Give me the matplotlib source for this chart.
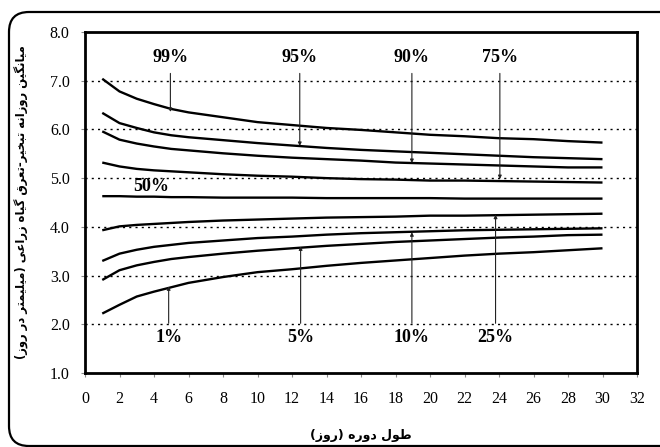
import matplotlib
matplotlib.use("Agg")
import matplotlib.pyplot as plt
from matplotlib.patches import FancyBboxPatch

# ---------------- data ----------------
days = [1, 2, 3, 4, 5, 6, 8, 10, 12, 14, 16, 18, 20, 22, 24, 26, 28, 30]
p99 = [7.04, 6.78, 6.63, 6.52, 6.42, 6.35, 6.25, 6.15, 6.09, 6.03, 5.99, 5.94, 5.89, 5.86, 5.82, 5.80, 5.76, 5.73]
p95 = [6.34, 6.13, 6.03, 5.94, 5.88, 5.84, 5.78, 5.72, 5.67, 5.62, 5.58, 5.55, 5.52, 5.49, 5.46, 5.43, 5.41, 5.39]
p90 = [5.96, 5.79, 5.71, 5.65, 5.60, 5.57, 5.51, 5.46, 5.42, 5.39, 5.36, 5.32, 5.30, 5.28, 5.26, 5.24, 5.22, 5.22]
p75 = [5.32, 5.24, 5.19, 5.16, 5.14, 5.12, 5.08, 5.05, 5.03, 5.00, 4.98, 4.97, 4.95, 4.95, 4.94, 4.93, 4.92, 4.91]
p50 = [4.63, 4.63, 4.62, 4.62, 4.61, 4.61, 4.60, 4.60, 4.60, 4.59, 4.59, 4.59, 4.59, 4.58, 4.58, 4.58, 4.58, 4.58]
p25 = [3.93, 4.01, 4.04, 4.06, 4.08, 4.10, 4.13, 4.15, 4.17, 4.19, 4.20, 4.21, 4.23, 4.23, 4.24, 4.25, 4.26, 4.27]
p10 = [3.30, 3.45, 3.53, 3.59, 3.63, 3.67, 3.72, 3.77, 3.80, 3.84, 3.87, 3.89, 3.91, 3.93, 3.94, 3.95, 3.96, 3.97]
p05 = [2.91, 3.11, 3.21, 3.28, 3.34, 3.38, 3.45, 3.51, 3.56, 3.61, 3.65, 3.69, 3.72, 3.75, 3.78, 3.80, 3.83, 3.84]
p01 = [2.22, 2.40, 2.57, 2.67, 2.76, 2.85, 2.97, 3.07, 3.13, 3.20, 3.26, 3.31, 3.36, 3.41, 3.45, 3.48, 3.52, 3.56]
series = [p99, p95, p90, p75, p50, p25, p10, p05, p01]

# annotations: label, label x, arrow tip y (on curve)
upper_labels = ["99%", "95%", "90%", "75%"]
upper_x = [4.95, 12.45, 18.95, 24.05]
upper_tip = [6.36, 5.66, 5.31, 4.98]
lower_labels = ["1%", "5%", "10%", "25%"]
lower_x = [4.85, 12.5, 18.95, 23.8]
lower_tip = [2.78, 3.60, 3.89, 4.25]

xticks = list(range(0, 33, 2))
yticks = [1, 2, 3, 4, 5, 6, 7, 8]
grid_y = [2, 3, 4, 5, 6, 7]

xlabel_fa = "طول دوره (روز)"
ylabel_fa = "میانگین روزانه تبخیر-تعرق گیاه زراعی (میلیمتر در روز)"

# ---------------- simple Persian shaping ----------------
FORMS = {  # isolated, final, initial, medial
    'ا': ('\uFE8D', '\uFE8E', None, None),
    'ب': ('\uFE8F', '\uFE90', '\uFE91', '\uFE92'),
    'ت': ('\uFE95', '\uFE96', '\uFE97', '\uFE98'),
    'خ': ('\uFEA5', '\uFEA6', '\uFEA7', '\uFEA8'),
    'د': ('\uFEA9', '\uFEAA', None, None),
    'ر': ('\uFEAD', '\uFEAE', None, None),
    'ز': ('\uFEAF', '\uFEB0', None, None),
    'ط': ('\uFEC1', '\uFEC2', '\uFEC3', '\uFEC4'),
    'ع': ('\uFEC9', '\uFECA', '\uFECB', '\uFECC'),
    'ق': ('\uFED5', '\uFED6', '\uFED7', '\uFED8'),
    'ل': ('\uFEDD', '\uFEDE', '\uFEDF', '\uFEE0'),
    'م': ('\uFEE1', '\uFEE2', '\uFEE3', '\uFEE4'),
    'ن': ('\uFEE5', '\uFEE6', '\uFEE7', '\uFEE8'),
    'ه': ('\uFEE9', '\uFEEA', '\uFEEB', '\uFEEC'),
    'و': ('\uFEED', '\uFEEE', None, None),
    'ی': ('\uFBFC', '\uFBFD', '\uFBFE', '\uFBFF'),
    'گ': ('\uFB92', '\uFB93', '\uFB94', '\uFB95'),
}


def shape(s):
    out = []
    n = len(s)
    for i, c in enumerate(s):
        if c not in FORMS:
            out.append(c)
            continue
        prev = s[i - 1] if i > 0 else None
        nxt = s[i + 1] if i + 1 < n else None
        join_prev = prev in FORMS and FORMS[prev][2] is not None
        join_next = nxt in FORMS and FORMS[c][2] is not None
        iso, fin, ini, med = FORMS[c]
        if join_prev and join_next:
            out.append(med)
        elif join_prev:
            out.append(fin)
        elif join_next:
            out.append(ini)
        else:
            out.append(iso)
    vis = ''.join(out)[::-1]
    return vis.translate(str.maketrans('()', ')('))


# ---------------- figure ----------------
fig = plt.figure(figsize=(6.6, 4.47), dpi=100)
ax = fig.add_axes([85 / 660, 1 - 373 / 447, (637 - 85) / 660, (373 - 32) / 447])

serif = "Liberation Serif"

for yv in grid_y:
    ax.axhline(yv, color="black", lw=1.0, linestyle=(0, (1.5, 3)), zorder=1)

for s in series:
    ax.plot(days, s, color="black", lw=1.7, solid_capstyle="butt", zorder=3)

for lab, x, tip in zip(upper_labels, upper_x, upper_tip):
    ax.text(x, 7.47, lab, ha="center", va="center", fontsize=13,
            fontweight="bold", family=serif)
    ax.annotate("", xy=(x, tip), xytext=(x, 7.15),
                arrowprops=dict(arrowstyle="-|>", lw=0.8, color="#222222",
                                mutation_scale=5, shrinkA=0, shrinkB=0))
ax.text(3.85, 4.83, "50%", ha="center", va="center", fontsize=13,
        fontweight="bold", family=serif)
for lab, x, tip in zip(lower_labels, lower_x, lower_tip):
    ax.text(x, 1.72, lab, ha="center", va="center", fontsize=13,
            fontweight="bold", family=serif)
    ax.annotate("", xy=(x, tip), xytext=(x, 2.02),
                arrowprops=dict(arrowstyle="-|>", lw=0.8, color="#222222",
                                mutation_scale=5, shrinkA=0, shrinkB=0))

ax.set_xlim(0, 32)
ax.set_ylim(1, 8)
ax.set_xticks(xticks)
ax.set_xticklabels([str(t) for t in xticks], family=serif, fontsize=11.5)
ax.set_yticks(yticks)
ax.set_yticklabels(["%.1f" % t for t in yticks], family=serif, fontsize=11.5)
ax.tick_params(axis="both", direction="out", length=3, width=0.8,
               color="#888888", pad=8)
ax.tick_params(axis="x", pad=10)
for sp in ax.spines.values():
    sp.set_linewidth(2.0)
    sp.set_color("black")

ax.set_xlabel(shape(xlabel_fa), family="DejaVu Sans", fontsize=9,
              fontweight="bold", labelpad=16)
ax.set_ylabel(shape(ylabel_fa), family="DejaVu Sans", fontsize=8.4,
              fontweight="bold")
ax.yaxis.set_label_coords(-0.102, 0.5)

# rounded outer frame
frame = FancyBboxPatch((0.09, 0.01), 7.0, 4.34,
                       boxstyle="round,pad=0,rounding_size=0.2",
                       transform=fig.dpi_scale_trans, fill=False,
                       lw=1.6, edgecolor="black")
fig.patches.append(frame)

fig.savefig("out.png", dpi=100)
